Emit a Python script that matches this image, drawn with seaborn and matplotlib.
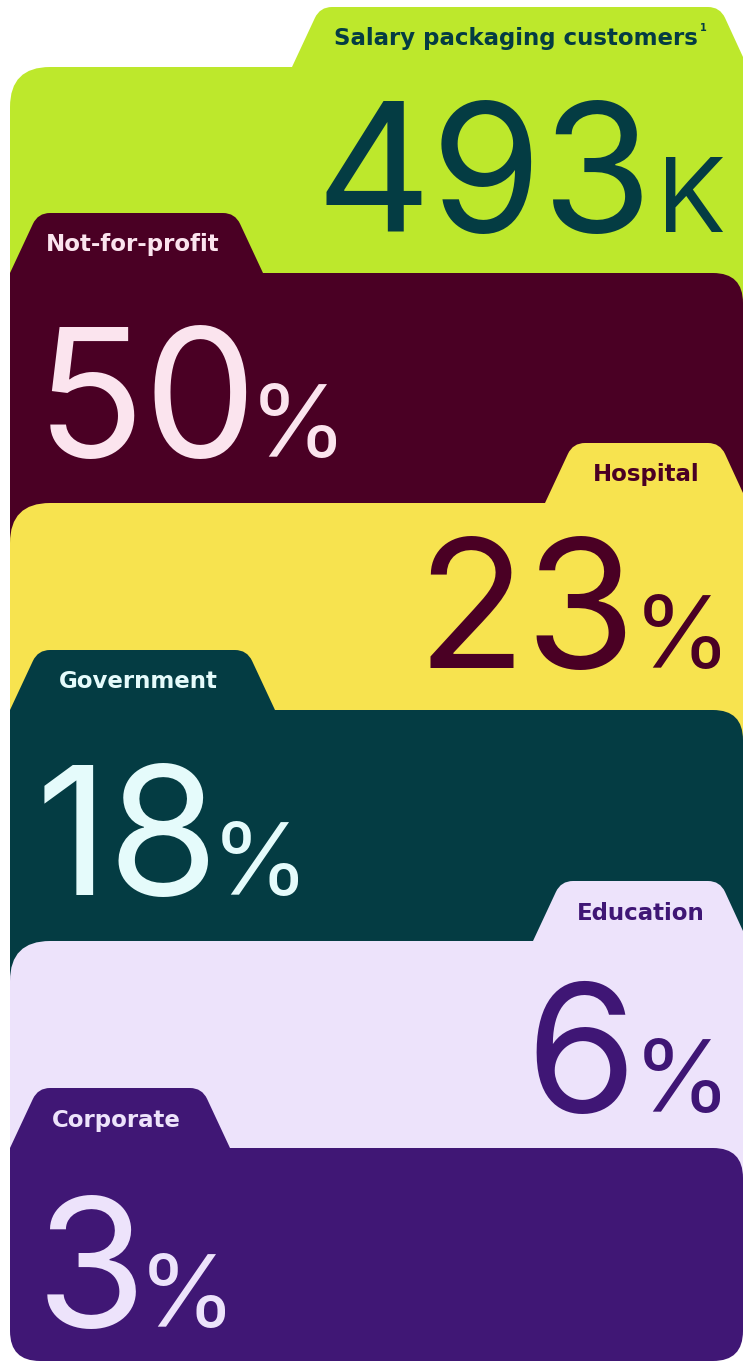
import numpy as np
import matplotlib
matplotlib.use("Agg")
import matplotlib.pyplot as plt
from matplotlib.path import Path
from matplotlib.patches import PathPatch
import seaborn as sns

# ---- data ----
categories = ["Salary packaging customers", "Not-for-profit", "Hospital",
              "Government", "Education", "Corporate"]
values = [493, 50, 23, 18, 6, 3]
suffixes = ["K", "%", "%", "%", "%", "%"]
footnotes = ["1", "", "", "", "", ""]

# ---- style / layout ----
card_colors = ["#BDE82C", "#4A0024", "#F7E34F", "#043C43", "#EDE3FB", "#401775"]
text_colors = ["#043C43", "#FBE4EE", "#4A0024", "#E5FBFB", "#3F1675", "#EDE3FB"]
tab_side = ["right", "left", "right", "left", "right", "left"]
tab_tops = [7, 213, 443, 650, 881, 1088]
baseline_offsets = [165, 184, 165, 185, 171, 179]
tab_h = 60
left_tab_right = {1: (235, 263), 3: (247, 275), 5: (202, 230)}
right_tab_left = {0: (292, 320), 2: (545, 573), 4: (533, 561)}

sns.set_theme(style="white")
plt.rcParams['font.family'] = ['DejaVu Sans']

W, H = 744, 1362
fig = plt.figure(figsize=(W / 100, H / 100), dpi=100)
fig.patch.set_facecolor("white")
ax = fig.add_axes([0, 0, 1, 1])
ax.set_xlim(0, W)
ax.set_ylim(H, 0)
ax.axis("off")


def rounded_path(pts, radii):
    verts, codes = [], []
    n = len(pts)
    for i in range(n):
        p = np.array(pts[i], float)
        r = radii[i]
        if r == 0:
            verts.append(p)
            codes.append(Path.MOVETO if i == 0 else Path.LINETO)
            continue
        prv = np.array(pts[i - 1], float)
        nxt = np.array(pts[(i + 1) % n], float)
        v1, v2 = prv - p, nxt - p
        l1, l2 = np.linalg.norm(v1), np.linalg.norm(v2)
        a = p + v1 / l1 * min(r, l1 / 2)
        b = p + v2 / l2 * min(r, l2 / 2)
        verts.append(a)
        codes.append(Path.MOVETO if i == 0 else Path.LINETO)
        verts += [p, b]
        codes += [Path.CURVE3, Path.CURVE3]
    verts.append(verts[0])
    codes.append(Path.CLOSEPOLY)
    return Path(verts, codes)


XL, XR = 10, 743
n = len(categories)
for i in range(n):
    top = tab_tops[i]
    body = top + tab_h
    last = i == n - 1
    bottom = H - 1 if last else tab_tops[i + 1] + tab_h + 80
    rb = 30 if last else 0
    if tab_side[i] == "left":
        tr, br = left_tab_right[i]
        pts = [(XL, bottom), (XL, body), (XL + 28, top), (tr, top),
               (br, body), (XR, body), (XR, bottom)]
        radii = [rb, 0, 12, 12, 0, 30, rb]
    else:
        bl, tl = right_tab_left[i]
        pts = [(XL, bottom), (XL, body), (bl, body), (tl, top),
               (720, top), (XR, top + 50), (XR, bottom)]
        radii = [rb, 40, 0, 12, 12, 0, rb]
    ax.add_patch(PathPatch(rounded_path(pts, radii), facecolor=card_colors[i],
                           edgecolor="none", zorder=i * 2))

fig.canvas.draw()
renderer = fig.canvas.get_renderer()

num_font = dict(family="Inter", fontweight="normal")
label_font = dict(family="DejaVu Sans", fontweight="bold")

for i in range(n):
    top = tab_tops[i]
    body = top + tab_h
    col = text_colors[i]
    z = i * 2 + 1
    # tab label
    if tab_side[i] == "left":
        tr, br = left_tab_right[i]
        cx = (XL + 28 + tr) / 2 - 4
    else:
        bl, tl = right_tab_left[i]
        cx = (tl + 720) / 2 - (4 if footnotes[i] else 0)
    lt = ax.text(cx, top + 32, categories[i], color=col, fontsize=16.5,
                 ha="center", va="center", zorder=z, **label_font)
    if footnotes[i]:
        bb = lt.get_window_extent(renderer)
        ax.text(bb.x1 + 2, top + 21, footnotes[i], color=col, fontsize=7,
                ha="left", va="center", zorder=z, **label_font)
    # big number
    baseline = body + baseline_offsets[i]
    big = 129
    is_k = suffixes[i] == "K"
    small = 74 if is_k else 72
    if tab_side[i] == "left":
        t = ax.text(36, baseline, str(values[i]), color=col, fontsize=big,
                    ha="left", va="baseline", zorder=z, **num_font)
        bb = t.get_window_extent(renderer)
        ax.text(bb.x1 - 9, baseline, suffixes[i], color=col, fontsize=small,
                ha="left", va="baseline", zorder=z, **num_font)
    else:
        s = ax.text(731 if not is_k else 726, baseline, suffixes[i], color=col,
                    fontsize=small, ha="right", va="baseline", zorder=z,
                    **num_font)
        bb = s.get_window_extent(renderer)
        gap = -4 if is_k else 4
        ax.text(bb.x0 + gap, baseline, str(values[i]), color=col, fontsize=big,
                ha="right", va="baseline", zorder=z, **num_font)

fig.savefig("out.png", dpi=100, facecolor="white")
